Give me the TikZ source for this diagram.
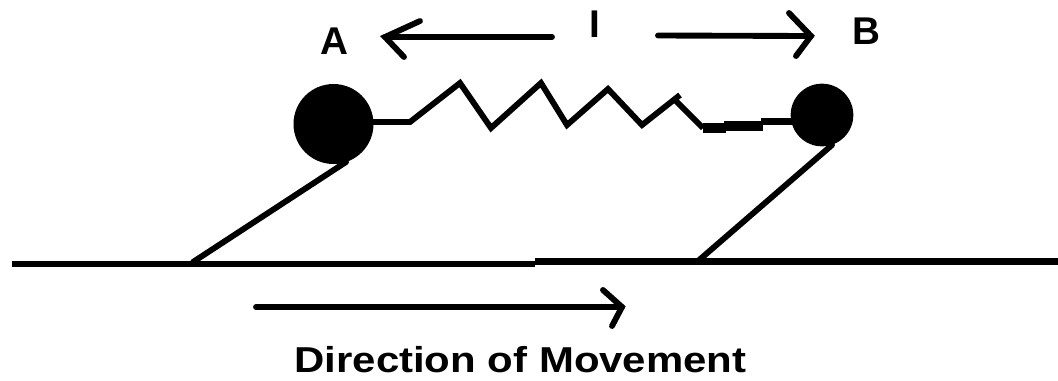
\documentclass[tikz,border=0pt]{standalone}
\usepackage{fontspec}
\setmainfont{Liberation Sans}
\tikzset{
  px/.style={x=0.75pt,y=-0.75pt},
  ball/.style={circle,fill=black,draw=none,inner sep=0pt},
  ln/.style={draw=black,line width=4.4pt,line join=miter,line cap=round},
  spring/.style={draw=black,line width=4.4pt,line join=miter},
  ground/.style={draw=black,line width=5.2pt},
  lab/.style={inner sep=0pt,text=black,font=\bfseries\fontsize{29}{29}\selectfont},
  caption/.style={inner sep=0pt,text=black,font=\bfseries\fontsize{27}{27}\selectfont}
}
\begin{document}
\begin{tikzpicture}[px]
\useasboundingbox (0,0) rectangle (1058,380);
\node[ball,minimum size=60pt] (A) at (333.5,124) {};
\node[ball,minimum size=47pt] (B) at (822,115) {};
% spring
\coordinate (s0) at (410,122);
\coordinate (s1) at (460,83);
\coordinate (s2) at (491,128);
\coordinate (s3) at (541,83);
\coordinate (s4) at (567,125);
\coordinate (s5) at (608,89);
\coordinate (s6) at (642,125);
\coordinate (s7) at (680,95);
\coordinate (s7b) at (676,101);
\coordinate (s8) at (703,128);
\coordinate (s9) at (726,128);
\coordinate (s10) at (724,125.7);
\coordinate (s11) at (763,125.7);
\coordinate (s12) at (761,121.7);
\draw[spring] (A.center |- s0) -- (s0) -- (s1) -- (s2) -- (s3) -- (s4) -- (s5) -- (s6) -- (s7);
\draw[spring] (s7b) -- (s8);
\draw[draw=black,line width=6.8pt] (s8) -- (s9);
\draw[draw=black,line width=7.6pt] (s10) -- (s11);
\draw[draw=black,line width=5pt] (s12) -- (B.center |- s12);
% legs
\coordinate (a1) at (346,162);
\coordinate (b1) at (832,145);
\coordinate (g1) at (193,262);
\coordinate (g2) at (698,261);
\draw[ln] (a1) -- (g1);
\draw[ln] (b1) -- (g2);
% ground
\coordinate (gl) at (12,264);
\coordinate (gm) at (535,264);
\coordinate (gn) at (535,261.5);
\coordinate (gr) at (1058,261.5);
\draw[ground] (gl) -- (gm);
\draw[ground] (gn) -- (gr);
% direction arrow
\coordinate (d0) at (256,307);
\coordinate (d1) at (622,307);
\coordinate (d2) at (603,290);
\coordinate (d3) at (612,326);
\draw[ln] (d0) -- (d1);
\draw[ln] (d2) -- (d1) -- (d3);
% length arrows
\coordinate (l0) at (552,37);
\coordinate (l1) at (385,37);
\coordinate (l2) at (420,21);
\coordinate (l3) at (404,57);
\draw[ln] (l0) -- (l1);
\draw[ln] (l2) -- (l1) -- (l3);
\coordinate (r0) at (658,35.5);
\coordinate (r1) at (811,36);
\coordinate (r2) at (789,13);
\coordinate (r3) at (796,56);
\draw[ln] (r0) -- (r1);
\draw[ln] (r2) -- (r1) -- (r3);
% labels
\node[lab] (la) at (334.5,41.5) {A};
\node[lab] (lb) at (866,31.5) {B};
\node[lab] (li) at (595,24) {I};
\node[caption] (dm) at (520.5,360) {\scalebox{1.165}[1]{Direction of Movement}};
\end{tikzpicture}
\end{document}
